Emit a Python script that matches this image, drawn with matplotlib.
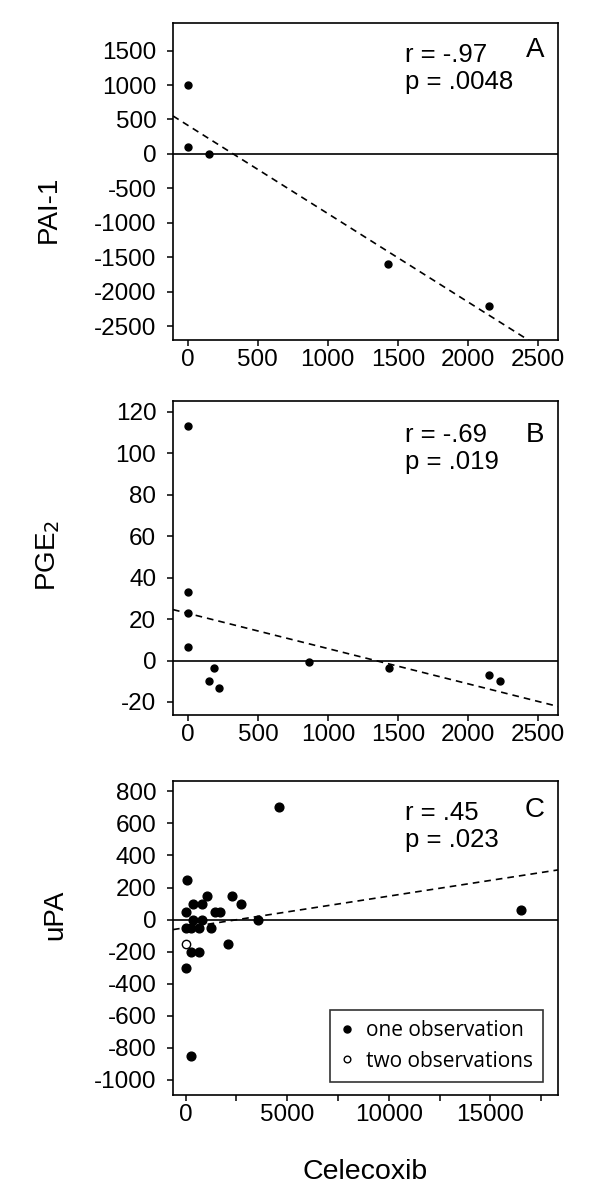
import numpy as np
import matplotlib
matplotlib.use('Agg')
import matplotlib.pyplot as plt

plt.rcParams['font.family'] = ['Liberation Sans', 'DejaVu Sans']
plt.rcParams['axes.unicode_minus'] = False

# panel A: PAI-1 vs celecoxib
pai_x = [0, 0, 150, 1430, 2150]
pai_y = [1000, 100, 0, -1600, -2200]

# panel B: PGE2 vs celecoxib
pge_x = [0, 0, 0, 0, 150, 185, 220, 866, 1435, 2150, 2225]
pge_y = [113, 33, 23, 6.5, -10, -3.5, -13.5, -0.5, -3.5, -7, -10]

# panel C: uPA vs celecoxib (one observation)
upa_x = [4600, 50, 0, 350, 800, 1050, 350, 830, 1450, 1700, 2300, 2750, 3550,
         0, 250, 650, 1250, 250, 650, 2100, 0, 250, 16500]
upa_y = [700, 250, 50, 100, 100, 150, 0, 0, 50, 50, 150, 100, 0,
         -50, -50, -50, -50, -200, -200, -150, -300, -850, 60]
# two observations at same point
upa2_x = [0]
upa2_y = [-150]

stats = [('r = -.97', 'p = .0048', 'A'),
         ('r = -.69', 'p = .019', 'B'),
         ('r = .45', 'p = .023', 'C')]

fig = plt.figure(figsize=(6, 12), dpi=100)
L, W = 173/600, 385/600
axA = fig.add_axes([L, 1-340/1200, W, 317/1200])
axB = fig.add_axes([L, 1-715/1200, W, 314/1200])
axC = fig.add_axes([L, 1-1095/1200, W, 314/1200])


def style(ax):
    for s in ax.spines.values():
        s.set_linewidth(1.2)
    ax.tick_params(axis='both', direction='out', length=4, width=1.1,
                   labelsize=17.5)
    ax.tick_params(axis='y', pad=8)
    ax.tick_params(axis='x', pad=2.5)
    ax.axhline(0, color='k', lw=1.2, zorder=1)


def fitline(ax, x, y, xlim):
    b, a = np.polyfit(x, y, 1)
    xx = np.array(xlim)
    ax.plot(xx, a + b*xx, color='k', lw=1.2, ls=(0, (4, 3)), zorder=2)


def annot(ax, i, ys):
    r, p, lab = stats[i]
    ax.text(0.603, ys[0], r, transform=ax.transAxes, fontsize=18.5, va='center')
    ax.text(0.603, ys[1], p, transform=ax.transAxes, fontsize=18.5, va='center')
    ax.text(0.94, ys[2], lab, transform=ax.transAxes, fontsize=20,
            va='center', ha='center')


# A
xlA = (-106, 2645)
fitline(axA, pai_x, pai_y, xlA)
axA.plot(pai_x, pai_y, 'o', color='k', ms=5, zorder=3)
axA.set_xlim(xlA)
axA.set_ylim(-2700, 1900)
axA.set_xticks(np.arange(0, 2501, 500))
axA.set_yticks(np.arange(-2500, 1501, 500))
style(axA)
annot(axA, 0, (0.899, 0.814, 0.915))

# B
xlB = (-106, 2640)
fitline(axB, pge_x, pge_y, xlB)
axB.plot(pge_x, pge_y, 'o', color='k', ms=5, zorder=3)
axB.set_xlim(xlB)
axB.set_ylim(-26.3, 125.3)
axB.set_xticks(np.arange(0, 2501, 500))
axB.set_yticks(np.arange(-20, 121, 20))
style(axB)
annot(axB, 1, (0.892, 0.807, 0.892))

# C
xlC = (-620, 18330)
allx = upa_x + upa2_x * 2
ally = upa_y + upa2_y * 2
fitline(axC, allx, ally, xlC)
axC.plot(upa_x, upa_y, 'o', color='k', ms=6.3, zorder=3,
         label='one observation')
axC.plot(upa2_x, upa2_y, 'o', mfc='white', mec='k', mew=1, ms=6,
         zorder=3, label='two observations')
axC.set_xlim(xlC)
axC.set_ylim(-1095, 865)
axC.set_xticks([0, 5000, 10000, 15000])
axC.set_xticks([2500, 7500, 12500, 17500], minor=True)
axC.tick_params(axis='x', which='minor', direction='out', length=4, width=1.1)
axC.set_yticks(np.arange(-1000, 801, 200))
style(axC)
annot(axC, 2, (0.898, 0.812, 0.908))
leg = axC.legend(loc='lower right', bbox_to_anchor=(0.961, 0.041),
                 prop={'family': 'Open Sans', 'size': 15}, frameon=True,
                 fancybox=False, edgecolor='k', handlelength=0.6,
                 handletextpad=0.6, labelspacing=0.45, borderpad=0.5,
                 borderaxespad=0, markerscale=0.8)
leg.get_frame().set_linewidth(1.2)

# axis titles
fig.text(0.082, 1-209/1200, 'PAI-1', rotation=90, fontsize=20,
         ha='center', va='center')
fig.text(0.08, 1-555/1200, 'PGE$_2$', rotation=90, fontsize=20,
         ha='center', va='center')
fig.text(0.092, 1-915/1200, 'uPA', rotation=90, fontsize=20,
         ha='center', va='center')
fig.text(0.609, 1-1172/1200, 'Celecoxib', fontsize=20.5, ha='center',
         va='center')

fig.savefig('out.png', dpi=100)
